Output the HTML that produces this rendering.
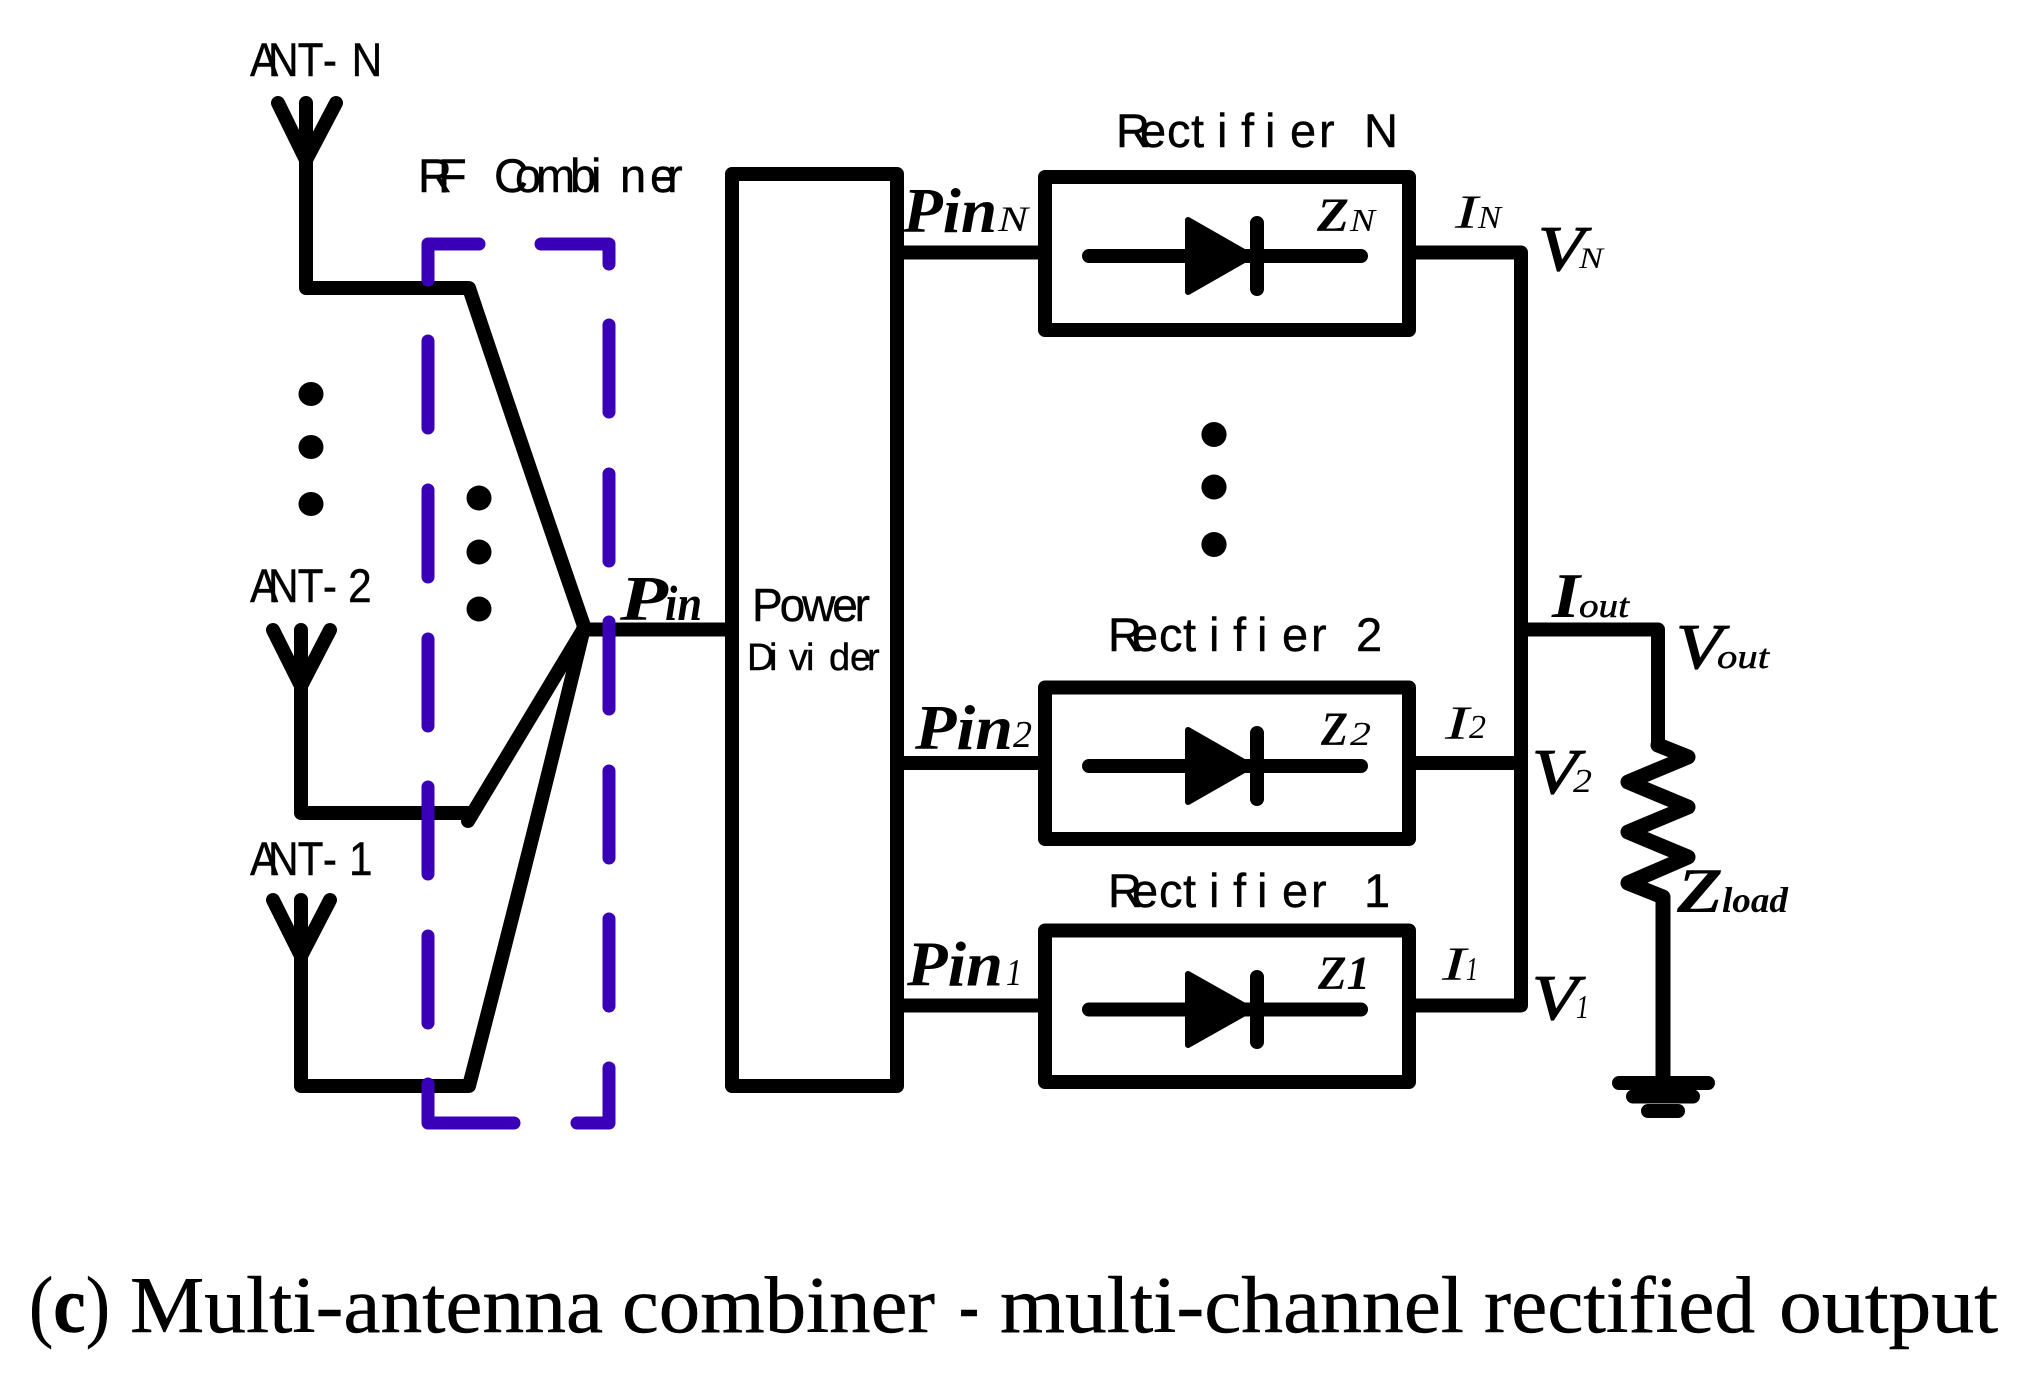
<!DOCTYPE html>
<html>
<head>
<meta charset="utf-8">
<style>
html,body{margin:0;padding:0;background:#fff;width:2041px;height:1375px;overflow:hidden}
svg{display:block}
.w{fill:none;stroke:#000;stroke-width:14;stroke-linejoin:round;stroke-linecap:round}
.b{fill:none;stroke:#3a00b8;stroke-width:13;stroke-linejoin:round;stroke-linecap:round}
.s{font-family:"Liberation Sans",sans-serif;font-size:47px;fill:#000;stroke:#000;stroke-width:.4}
.i{font-family:"Liberation Serif",serif;font-style:italic;font-weight:bold;fill:#000}
.r{font-family:"Liberation Serif",serif;font-style:italic;fill:#000}
.v{font-family:"Liberation Serif",serif;font-style:italic;fill:#000;stroke:#000;stroke-width:1.2}
.c{font-family:"Liberation Serif",serif;font-size:80px;fill:#000;stroke:#000;stroke-width:.5}
</style>
</head>
<body>
<svg width="2041" height="1375" viewBox="0 0 2041 1375" xmlns="http://www.w3.org/2000/svg">
<rect width="2041" height="1375" fill="#fff"/>

<!-- antennas and combiner lines -->
<g class="w">
<path d="M306 288V103M278 103L306 160L336 103M306 288H469Q530 470 585 629"/>
<path d="M301 813V630M273 630L301 686L330 630M301 813H468"/>
<path d="M468 821L583 630"/>
<path d="M301 1086V900M273 900L301 956L330 900M301 1086H469Q530 850 583 632"/>
<path d="M583 629.5H732"/>
<path d="M732 174H897V1086H732Z"/>
<path d="M897 252.5H1039M897 763H1039M897 1005.5H1039"/>
<path d="M1045 177H1409V330H1045Z"/>
<path d="M1045 687.5H1409V839H1045Z"/>
<path d="M1045 930.5H1409V1082H1045Z"/>
<path d="M1416 252.5H1521V1005.5H1416M1416 763H1521M1521 629.5H1658V745"/>
<path d="M1658 745L1688 757L1628 782L1688 807L1628 832L1688 857L1628 883L1663 897V1078" stroke-width="15"/>
<path d="M1089 256H1361M1257 223V289"/>
<path d="M1089 766H1361M1257 733V799"/>
<path d="M1089 1009.5H1361M1257 977V1042"/>
<path d="M1619 1083H1708M1633 1096.5H1693M1648 1111H1678"/>
</g>
<g fill="#000" stroke="#000" stroke-width="6" stroke-linejoin="round">
<path d="M1188 220V292L1251 256Z"/>
<path d="M1188 730V802L1251 766Z"/>
<path d="M1188 974V1045L1251 1009.5Z"/>
</g>

<!-- blue dashed box -->
<g class="b">
<path d="M428 280V244H479M541 244H609V264"/>
<path d="M428 341V428M428 490V577M428 639V726M428 787V874M428 936V1023M428 1084V1123H514"/>
<path d="M609 325V412M609 474V561M609 622V709M609 771V858M609 919V1006M609 1068V1123H577"/>
</g>

<!-- dots -->
<g fill="#000">
<ellipse cx="311" cy="394" rx="12.5" ry="12"/>
<ellipse cx="311" cy="447" rx="12.5" ry="12"/>
<ellipse cx="311" cy="504" rx="12.5" ry="12"/>
<ellipse cx="479" cy="498" rx="12.5" ry="12.5"/>
<ellipse cx="479" cy="552" rx="12.5" ry="12.5"/>
<ellipse cx="479" cy="609" rx="12.5" ry="12.5"/>
<ellipse cx="1214" cy="434.5" rx="12.6" ry="12.5"/>
<ellipse cx="1214" cy="487" rx="12.6" ry="12.5"/>
<ellipse cx="1214" cy="544.5" rx="12.6" ry="12.5"/>
</g>

<!-- sans labels -->
<text class="s" transform="translate(250 76) scale(.9 1)" x="0 20 53 81 100 113" y="0">ANT- N</text>
<text class="s" transform="translate(250 602) scale(.9 1)" x="0 20 53 81 100 109" y="0">ANT- 2</text>
<text class="s" transform="translate(250 875) scale(.9 1)" x="0 20 53 81 100 110" y="0">ANT- 1</text>
<text class="s" x="418 438 480 494 515 536 570 591 605 620 650 667" y="192">RF Combi ner</text>
<text class="s" x="752" y="621" style="font-size:46px" textLength="118" lengthAdjust="spacing">Power</text>
<text class="s" x="747 769 780 789 806 818 829 850 867" y="670" style="font-size:38px">Di vi der</text>
<text class="s" x="1116 1140 1167 1191 1205 1217 1230 1241 1255 1265 1280 1290 1319 1340 1364" y="147">Rect i f i er N</text>
<text class="s" x="1108 1132 1159 1183 1197 1209 1222 1233 1247 1257 1272 1282 1311 1335 1356" y="651">Rect i f i er 2</text>
<text class="s" x="1108 1132 1159 1183 1197 1209 1222 1233 1247 1257 1272 1282 1311 1335 1364" y="907">Rect i f i er 1</text>

<!-- italic labels -->
<text class="i" x="620" y="620" font-size="64" textLength="48" lengthAdjust="spacingAndGlyphs">P</text>
<text class="i" x="665" y="620" font-size="50" textLength="37" lengthAdjust="spacingAndGlyphs">in</text>

<text class="i" x="903" y="232" font-size="64" textLength="94" lengthAdjust="spacingAndGlyphs">Pin</text>
<text class="r" x="998" y="231" font-size="36" textLength="30" lengthAdjust="spacingAndGlyphs">N</text>
<text class="i" x="915" y="749" font-size="64" textLength="98" lengthAdjust="spacingAndGlyphs">Pin</text>
<text class="r" x="1013" y="747" font-size="38" textLength="19" lengthAdjust="spacingAndGlyphs">2</text>
<text class="i" x="907" y="985.5" font-size="64" textLength="96" lengthAdjust="spacingAndGlyphs">Pin</text>
<text class="r" x="1006" y="985" font-size="38" textLength="16" lengthAdjust="spacingAndGlyphs">1</text>

<text class="i" x="1317" y="231" font-size="48" textLength="32" lengthAdjust="spacingAndGlyphs">Z</text>
<text class="r" x="1350" y="231" font-size="32" textLength="25" lengthAdjust="spacingAndGlyphs">N</text>
<text class="i" x="1321" y="745" font-size="48" textLength="27" lengthAdjust="spacingAndGlyphs">Z</text>
<text class="r" x="1350" y="745" font-size="34" textLength="21" lengthAdjust="spacingAndGlyphs">2</text>
<text class="i" x="1318" y="989" font-size="48" textLength="52" lengthAdjust="spacingAndGlyphs">Z1</text>

<text class="r" x="1455" y="228" font-size="48" textLength="23" lengthAdjust="spacingAndGlyphs">I</text>
<text class="r" x="1478" y="228" font-size="32" textLength="23" lengthAdjust="spacingAndGlyphs">N</text>
<text class="r" x="1445" y="739" font-size="48" textLength="24" lengthAdjust="spacingAndGlyphs">I</text>
<text class="r" x="1469" y="738" font-size="34" textLength="17" lengthAdjust="spacingAndGlyphs">2</text>
<text class="r" x="1442" y="980" font-size="48" textLength="24" lengthAdjust="spacingAndGlyphs">I</text>
<text class="r" x="1466" y="980" font-size="34" textLength="12" lengthAdjust="spacingAndGlyphs">1</text>

<text class="v" x="1538" y="270" font-size="64" textLength="46" lengthAdjust="spacingAndGlyphs">V</text>
<text class="r" x="1579" y="268" font-size="30" textLength="24" lengthAdjust="spacingAndGlyphs">N</text>
<text class="v" x="1532" y="793" font-size="64" textLength="46" lengthAdjust="spacingAndGlyphs">V</text>
<text class="r" x="1573" y="792" font-size="34" textLength="19" lengthAdjust="spacingAndGlyphs">2</text>
<text class="v" x="1532" y="1019" font-size="64" textLength="46" lengthAdjust="spacingAndGlyphs">V</text>
<text class="r" x="1576" y="1018" font-size="34" textLength="13" lengthAdjust="spacingAndGlyphs">1</text>

<text class="i" x="1552" y="617" font-size="64" textLength="28" lengthAdjust="spacingAndGlyphs">I</text>
<text class="v" x="1579" y="617" font-size="34" textLength="50" lengthAdjust="spacingAndGlyphs" style="stroke-width:.5">out</text>
<text class="v" x="1676" y="668" font-size="64" textLength="46" lengthAdjust="spacingAndGlyphs">V</text>
<text class="v" x="1717" y="668" font-size="34" textLength="52" lengthAdjust="spacingAndGlyphs" style="stroke-width:.5">out</text>
<text class="i" x="1677" y="912" font-size="64" textLength="46" lengthAdjust="spacingAndGlyphs">Z</text>
<text class="i" x="1722" y="912" font-size="36" textLength="66" lengthAdjust="spacingAndGlyphs">load</text>

<!-- caption -->
<text class="c" x="29" y="1332" textLength="81" lengthAdjust="spacingAndGlyphs">(<tspan font-weight="bold">c</tspan>)</text>
<text class="c" x="130" y="1332" textLength="473" lengthAdjust="spacingAndGlyphs">Multi-antenna</text>
<text class="c" x="622" y="1332" textLength="313" lengthAdjust="spacingAndGlyphs">combiner</text>
<text class="c" x="959" y="1332" textLength="20" lengthAdjust="spacingAndGlyphs">-</text>
<text class="c" x="1000" y="1332" textLength="464" lengthAdjust="spacingAndGlyphs">multi-channel</text>
<text class="c" x="1484" y="1332" textLength="271" lengthAdjust="spacingAndGlyphs">rectified</text>
<text class="c" x="1779" y="1332" textLength="219" lengthAdjust="spacingAndGlyphs">output</text>
</svg>
</body>
</html>
